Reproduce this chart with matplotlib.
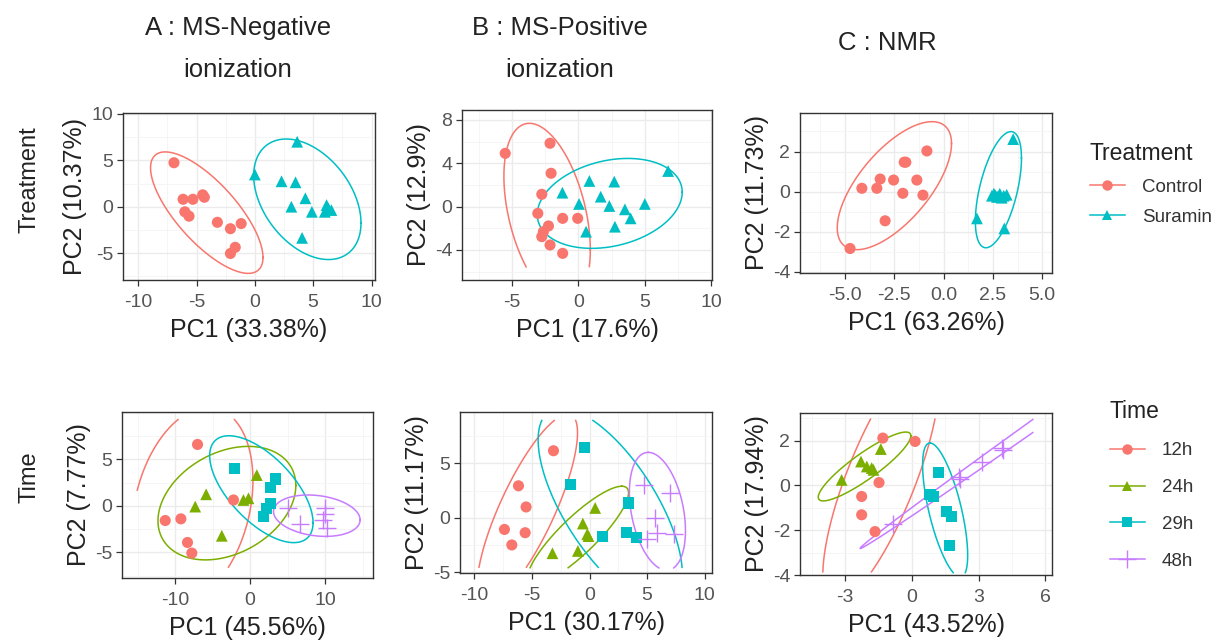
import numpy as np
import matplotlib
matplotlib.use("Agg")
import matplotlib.pyplot as plt
from matplotlib.lines import Line2D
from matplotlib.ticker import FixedLocator, MultipleLocator, FixedFormatter

plt.rcParams['font.family'] = ['Liberation Sans', 'DejaVu Sans']
plt.rcParams['axes.unicode_minus'] = False

# ---------------- data ----------------
treat_groups = ["Control", "Suramin"]
time_groups = ["12h", "24h", "29h", "48h"]

# A : MS-Negative, Treatment
a_ctrl_x = [-6.93, -6.15, -5.31, -4.47, -4.33, -6.0, -5.64, -3.21, -2.09, -1.17, -1.68, -2.09]
a_ctrl_y = [4.74, 0.80, 0.80, 1.28, 1.02, -0.55, -1.02, -1.68, -2.37, -1.82, -4.38, -5.04]
a_sur_x = [3.63, 0.0, 2.29, 3.49, 4.33, 3.13, 4.89, 6.15, 6.56, 6.0, 4.05, 6.3]
a_sur_y = [7.0, 3.47, 2.74, 2.63, 0.91, 0.0, -0.55, 0.18, -0.36, -0.55, -3.36, -0.2]
# B : MS-Positive, Treatment
b_ctrl_x = [-5.5, -2.13, -2.05, -2.75, -3.05, -1.18, -0.05, -2.25, -2.63, -2.75, -2.13, -1.18]
b_ctrl_y = [4.92, 5.85, 3.08, 1.14, -0.62, -1.08, -1.08, -1.78, -2.31, -2.77, -3.54, -4.31]
b_sur_x = [6.75, 0.83, 2.7, -1.2, 1.68, 0.05, 2.33, 3.5, 5.0, 3.93, 0.58, 2.75]
b_sur_y = [3.29, 2.37, 2.31, 1.29, 0.92, 0.25, 0.06, -0.25, 0.25, -1.08, -2.31, -1.85]
# C : NMR, Treatment
c_ctrl_x = [-4.75, -4.15, -3.39, -3.22, -2.54, -2.0, -1.92, -2.07, -1.36, -1.05, -0.85, -2.97]
c_ctrl_y = [-2.83, 0.17, 0.17, 0.63, 0.58, 1.47, 1.47, -0.08, 0.58, -0.17, 2.03, -1.45]
c_sur_x = [3.53, 1.69, 3.08, 2.45, 2.6, 2.7, 2.85, 2.95, 3.05, 3.2, 2.75, 2.55]
c_sur_y = [2.62, -1.33, -1.83, -0.2, -0.15, -0.25, -0.1, -0.3, -0.2, -0.15, -0.25, -0.1]

# A : MS-Negative, Time
a_12_x = [-7.02, -11.33, -9.24, -8.36, -7.78, -2.22]
a_12_y = [6.61, -1.57, -1.39, -3.93, -5.07, 0.64]
a_24_x = [-7.33, -5.87, -3.78, 0.89, -0.89, -0.22]
a_24_y = [-0.07, 1.25, -3.21, 3.32, 0.64, 0.82]
a_29_x = [-2.13, 3.33, 2.67, 2.67, 2.22, 1.78]
a_29_y = [4.04, 2.89, 2.0, 0.29, -0.25, -1.14]
a_48_x = [5.11, 10.0, 10.0, 9.78, 6.67, 10.22]
a_48_y = [-0.25, -0.25, -0.89, -1.5, -1.93, -2.39]
# B : MS-Positive, Time
b_12_x = [-3.13, -6.17, -5.51, -7.39, -5.59, -6.75]
b_12_y = [6.15, 2.94, 1.0, -1.06, -1.36, -2.48]
b_24_x = [-3.22, -1.01, -0.58, 0.49, -0.09, -0.2]
b_24_y = [-3.24, -3.03, -0.52, 0.91, -1.67, -1.5]
b_29_x = [-0.43, -1.62, 3.39, 1.13, 3.25, 4.12]
b_29_y = [6.45, 3.03, 1.36, -1.73, -1.36, -1.82]
b_48_x = [4.7, 7.01, 5.71, 5.86, 7.3, 4.99]
b_48_y = [3.03, 2.27, 0.0, -1.36, -1.52, -1.97]
# C : NMR, Time
c_12_x = [-1.3, 0.15, -1.47, -2.25, -2.25, -1.65]
c_12_y = [2.12, 1.97, 0.13, -0.49, -1.31, -2.06]
c_24_x = [-3.15, -2.28, -2.02, -1.8, -1.39, -1.72]
c_24_y = [0.25, 1.07, 0.85, 0.78, 1.63, 0.7]
c_29_x = [1.2, 0.82, 0.97, 1.57, 1.8, 1.69]
c_29_y = [0.58, -0.42, -0.49, -1.16, -1.39, -2.7]
c_48_x = [-0.82, 2.1, 2.17, 3.15, 4.05, 4.1]
c_48_y = [-1.72, 0.4, 0.28, 1.07, 1.67, 1.6]

# confidence ellipses: centre (cx, cy) and conjugate semi-diameters P, Q
a_treat_ell = [(-4.12, -0.64, 4.82, -4.83, 0.0, 4.42), (4.5, 0.8, 4.6, -2.56, 0.0, 5.97)]
b_treat_ell = [(-2.35, -0.6, 3.25, -3.4, 0.0, 7.56), (2.36, 0.3, 5.45, 1.03, 0.0, 4.02)]
c_treat_ell = [(-2.5, 0.3, 2.9, 2.1, 0.0, 2.4), (2.78, 0.1, 1.17, 1.57, 0.0, 2.43)]
a_time_ell = [(-7.7, 0.0, 2.1, 10.6, 7.8, 0.0), (-3.1, 0.3, 9.2, 1.9, 0.0, 5.8),
              (1.5, 1.8, 6.9, -3.6, 0.0, 4.48), (8.9, -1.05, 5.78, -0.45, 0.0, 2.18)]
b_time_ell = [(-5.4, 0.8, 3.5, 8.7, 2.6, 0.0), (-1.0, -1.6, 3.8, 4.5, 2.2, 0.0),
              (1.8, 1.0, -4.25, 9.05, 4.6, 0.0), (5.9, 0.6, -0.8, 5.4, 2.3, 0.0)]
c_time_ell = [(-1.38, 0.3, 2.03, 5.55, 1.65, 0.0), (-2.12, 0.85, 2.08, 1.37, 0.0, 0.7),
              (1.5, -1.1, -0.68, 3.0, 0.75, 0.0), (9.37, 5.43, 11.69, 8.24, 0.0, 0.31)]

# ---------------- style ----------------
treat_colors = ["#F8766D", "#00BFC4"]
time_colors = ["#F8766D", "#7CAE00", "#00BFC4", "#C77CFF"]
treat_markers = ["o", "^"]
time_markers = ["o", "^", "s", "+"]

W, H = 1220, 643
fig = plt.figure(figsize=(W / 100, H / 100), dpi=100)


def add_ax(l, t, r, b):
    return fig.add_axes([l / W, 1 - b / H, (r - l) / W, (b - t) / H])


def draw_ellipse(ax, e, clip, color):
    cx, cy, px, py, qx, qy = e
    t = np.linspace(0, 2 * np.pi, 500)
    x = cx + px * np.cos(t) + qx * np.sin(t)
    y = cy + py * np.cos(t) + qy * np.sin(t)
    if clip is not None:
        x0, x1, y0, y1 = clip
        m = (x < x0) | (x > x1) | (y < y0) | (y > y1)
        x = np.where(m, np.nan, x)
        y = np.where(m, np.nan, y)
    ax.plot(x, y, color=color, lw=1.1, zorder=3)


def style_ax(ax, xlim, ylim, xt, yt, xminor, yminor, xlab, ylab, xtl=None):
    ax.set_xlim(*xlim)
    ax.set_ylim(*ylim)
    ax.xaxis.set_major_locator(FixedLocator(xt))
    ax.yaxis.set_major_locator(FixedLocator(yt))
    if xtl is not None:
        ax.xaxis.set_major_formatter(FixedFormatter(xtl))
    ax.xaxis.set_minor_locator(MultipleLocator(xminor))
    ax.yaxis.set_minor_locator(MultipleLocator(yminor))
    ax.grid(True, which='major', color='#EBEBEB', lw=1.0, zorder=0)
    ax.grid(True, which='minor', color='#F4F4F4', lw=0.6, zorder=0)
    ax.set_axisbelow(True)
    ax.tick_params(which='major', length=4, width=0.9, color='#333333',
                   labelcolor='#555555', labelsize=14)
    ax.tick_params(axis='x', which='major', pad=6)
    ax.tick_params(axis='y', which='major', pad=3)
    ax.tick_params(which='minor', length=0)
    for s in ax.spines.values():
        s.set_color('#333333')
        s.set_linewidth(1.0)
    ax.set_xlabel(xlab, fontsize=18, color='#222222', labelpad=5)
    ax.set_ylabel(ylab, fontsize=18, color='#222222', labelpad=3)


def scatter_groups(ax, xs, ys, colors, markers):
    for x, y, c, m in zip(xs, ys, colors, markers):
        if m == '+':
            ax.scatter(x, y, s=180, marker=m, c=c, linewidths=1.0, zorder=4)
        else:
            ax.scatter(x, y, s=64 if m != '^' else 72, marker=m, c=c,
                       edgecolors='none', zorder=4)


# ---------------- top row (Treatment) ----------------
ax1 = add_ax(123, 113, 375, 280)
style_ax(ax1, (-11.3, 10.3), (-7.9, 10.1), [-10, -5, 0, 5, 10], [-5, 0, 5, 10], 2.5, 2.5,
         "PC1 (33.38%)", "PC2 (10.37%)")
for e, c in zip(a_treat_ell, treat_colors):
    draw_ellipse(ax1, e, None, c)
scatter_groups(ax1, [a_ctrl_x, a_sur_x], [a_ctrl_y, a_sur_y], treat_colors, treat_markers)

ax2 = add_ax(462, 110, 712, 280)
style_ax(ax2, (-8.75, 10.05), (-6.77, 8.92), [-5, 0, 5, 10], [-4, 0, 4, 8], 2.5, 2,
         "PC1 (17.6%)", "PC2 (12.9%)")
for e, c in zip(b_treat_ell, treat_colors):
    draw_ellipse(ax2, e, (-9, 11, -5.6, 9), c)
scatter_groups(ax2, [b_ctrl_x, b_sur_x], [b_ctrl_y, b_sur_y], treat_colors, treat_markers)

ax3 = add_ax(800, 113, 1052, 273)
style_ax(ax3, (-7.29, 5.5), (-4.05, 3.92), [-5, -2.5, 0, 2.5, 5], [-4, -2, 0, 2], 1.25, 1,
         "PC1 (63.26%)", "PC2 (11.73%)", xtl=["-5.0", "-2.5", "0.0", "2.5", "5.0"])
for e, c in zip(c_treat_ell, treat_colors):
    draw_ellipse(ax3, e, None, c)
scatter_groups(ax3, [c_ctrl_x, c_sur_x], [c_ctrl_y, c_sur_y], treat_colors, treat_markers)

# ---------------- bottom row (Time) ----------------
ax4 = add_ax(122, 412, 373, 578)
style_ax(ax4, (-17.1, 16.4), (-7.75, 10.1), [-10, 0, 10], [-5, 0, 5], 5, 2.5,
         "PC1 (45.56%)", "PC2 (7.77%)")
for e, c in zip(a_time_ell, time_colors):
    draw_ellipse(ax4, e, (-15.1, 15.0, -6.6, 9.3), c)
scatter_groups(ax4, [a_12_x, a_24_x, a_29_x, a_48_x], [a_12_y, a_24_y, a_29_y, a_48_y],
               time_colors, time_markers)

ax5 = add_ax(460, 412, 712, 573)
style_ax(ax5, (-11.25, 10.64), (-5.05, 9.7), [-10, -5, 0, 5, 10], [-5, 0, 5], 2.5, 2.5,
         "PC1 (30.17%)", "PC2 (11.17%)")
for e, c in zip(b_time_ell, time_colors):
    draw_ellipse(ax5, e, (-10.5, 10.0, -4.6, 8.95), c)
scatter_groups(ax5, [b_12_x, b_24_x, b_29_x, b_48_x], [b_12_y, b_24_y, b_29_y, b_48_y],
               time_colors, time_markers)

ax6 = add_ax(800, 413, 1052, 575)
style_ax(ax6, (-5.02, 6.3), (-4.0, 3.24), [-3, 0, 3, 6], [-4, -2, 0, 2], 1.5, 1,
         "PC1 (43.52%)", "PC2 (17.94%)")
for e, c in zip(c_time_ell, time_colors):
    draw_ellipse(ax6, e, (-4.5, 5.5, -3.9, 3.0), c)
scatter_groups(ax6, [c_12_x, c_24_x, c_29_x, c_48_x], [c_12_y, c_24_y, c_29_y, c_48_y],
               time_colors, time_markers)

# ---------------- titles / row labels ----------------
fig.text(238 / W, 1 - 49 / H, "A : MS-Negative\nionization", ha='center', va='center',
         fontsize=18.5, color='#222222', linespacing=1.95)
fig.text(560 / W, 1 - 49 / H, "B : MS-Positive\nionization", ha='center', va='center',
         fontsize=18.5, color='#222222', linespacing=1.95)
fig.text(887 / W, 1 - 43 / H, "C : NMR", ha='center', va='center',
         fontsize=18.5, color='#222222')
fig.text(30 / W, 1 - 180 / H, "Treatment", ha='center', va='center', rotation=90,
         fontsize=17, color='#222222')
fig.text(30 / W, 1 - 477 / H, "Time", ha='center', va='center', rotation=90,
         fontsize=17, color='#222222')

# ---------------- legends ----------------
treat_handles = [Line2D([0], [0], color=c, marker=m, lw=1.1, markersize=7.5 if m != '+' else 13,
                        markeredgewidth=1.0 if m == '+' else 0)
                 for c, m in zip(treat_colors, treat_markers)]
time_handles = [Line2D([0], [0], color=c, marker=m, lw=1.1, markersize=7.5 if m != '+' else 13,
                       markeredgewidth=1.0 if m == '+' else 0)
                for c, m in zip(time_colors, time_markers)]
leg1 = fig.legend(treat_handles, treat_groups, title="Treatment", loc='upper left',
                  bbox_to_anchor=(1082 / W, 1 - 135 / H), frameon=False, fontsize=13.5,
                  title_fontsize=16.5, alignment='left', handlelength=1.9, handletextpad=0.9,
                  labelspacing=0.7, borderaxespad=0)
leg2 = fig.legend(time_handles, time_groups, title="Time", loc='upper left',
                  bbox_to_anchor=(1102 / W, 1 - 392 / H), frameon=False, fontsize=13.5,
                  title_fontsize=16.5, alignment='left', handlelength=1.9, handletextpad=0.9,
                  labelspacing=1.05, borderaxespad=0)
for lg in (leg1, leg2):
    for t in lg.get_texts():
        t.set_color('#333333')
    lg.get_title().set_color('#222222')

fig.savefig("out.png", dpi=100)
